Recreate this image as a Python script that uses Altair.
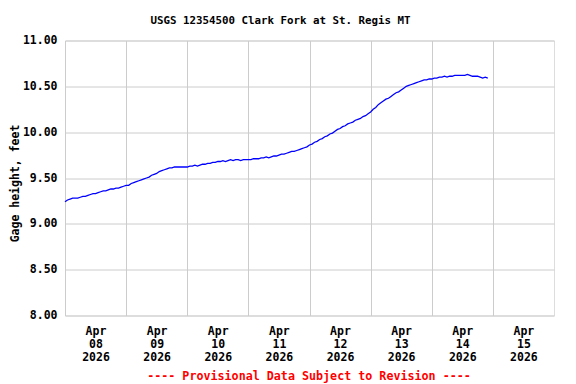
import altair as alt
import pandas as pd

TITLE = "USGS 12354500 Clark Fork at St. Regis MT"
Y_TITLE = "Gage height, feet"
FOOTER = "---- Provisional Data Subject to Revision ----"
START = "2026-04-08T00:00:00Z"

# hourly gage height readings (feet), starting Apr 08 2026 00:00
day1 = [9.24, 9.26, 9.27, 9.28, 9.28, 9.28, 9.29, 9.30, 9.30, 9.31, 9.32, 9.33,
        9.33, 9.34, 9.35, 9.36, 9.36, 9.37, 9.38, 9.38, 9.39, 9.39, 9.40, 9.41]
day2 = [9.42, 9.42, 9.44, 9.45, 9.46, 9.47, 9.48, 9.49, 9.50, 9.51, 9.53, 9.54,
        9.55, 9.57, 9.58, 9.59, 9.60, 9.61, 9.61, 9.62, 9.62, 9.62, 9.62, 9.62]
day3 = [9.62, 9.63, 9.63, 9.64, 9.63, 9.64, 9.65, 9.65, 9.66, 9.66, 9.67, 9.67,
        9.68, 9.68, 9.69, 9.68, 9.69, 9.70, 9.69, 9.70, 9.70, 9.69, 9.70, 9.70]
day4 = [9.70, 9.70, 9.71, 9.71, 9.71, 9.72, 9.72, 9.73, 9.72, 9.73, 9.74, 9.74,
        9.75, 9.76, 9.76, 9.77, 9.78, 9.79, 9.79, 9.80, 9.81, 9.82, 9.83, 9.84]
day5 = [9.86, 9.87, 9.89, 9.90, 9.92, 9.93, 9.95, 9.96, 9.98, 9.99, 10.01, 10.03,
        10.04, 10.06, 10.07, 10.09, 10.10, 10.11, 10.13, 10.14, 10.15, 10.17, 10.18, 10.20]
day6 = [10.22, 10.25, 10.27, 10.30, 10.32, 10.34, 10.36, 10.37, 10.39, 10.41, 10.43, 10.44,
        10.46, 10.48, 10.50, 10.51, 10.52, 10.53, 10.54, 10.55, 10.56, 10.57, 10.57, 10.58]
day7 = [10.58, 10.59, 10.59, 10.60, 10.60, 10.61, 10.60, 10.61, 10.61, 10.62, 10.62, 10.62,
        10.62, 10.62, 10.63, 10.62, 10.61, 10.61, 10.61, 10.60, 10.59, 10.60, 10.59]

values = day1 + day2 + day3 + day4 + day5 + day6 + day7
times = pd.date_range(START, periods=len(values), freq="h")
df = pd.DataFrame({"time": times.strftime("%Y-%m-%dT%H:%M:%SZ"), "gage": values})

TICK_DAYS = [8, 9, 10, 11, 12, 13, 14, 15]
FONT = "DejaVu Sans Mono"

x_axis = alt.Axis(
    values=[alt.DateTime(year=2026, month=4, date=d, utc=True) for d in TICK_DAYS],
    labelExpr="[utcFormat(datum.value, '%b'), utcFormat(datum.value, '%d'), utcFormat(datum.value, '%Y')]",
    labelOffset=30.5,
    labelPadding=10,
    labelLineHeight=13,
    labelFont=FONT, labelFontSize=11.5, labelFontWeight="bold", labelColor="black",
    labelAlign="center", labelBaseline="top",
    ticks=False, domain=False,
    grid=True, gridColor="#cccccc", gridWidth=1,
    title=FOOTER, titleColor="#ff0000", titleFont=FONT, titleFontSize=11.7,
    titleFontWeight="bold", titleX=243.5, titleY=60, titleBaseline="middle",
    titleAlign="center",
)
y_axis = alt.Axis(
    values=[8.0, 8.5, 9.0, 9.5, 10.0, 10.5, 11.0],
    format=".2f",
    labelFont=FONT, labelFontSize=11.5, labelFontWeight="bold", labelColor="black",
    labelPadding=8, ticks=False, domain=False,
    grid=True, gridColor="#cccccc", gridWidth=1,
    title=Y_TITLE, titleFont=FONT, titleFontSize=11.5, titleFontWeight="bold",
    titleColor="black", titleX=-50, titleY=142.5, titleAngle=270,
    titleBaseline="middle", titleAlign="center",
)

chart = alt.Chart(df).mark_line(color="#0000ff", strokeWidth=1.3).encode(
    x=alt.X("time:T", axis=x_axis,
            scale=alt.Scale(type="utc", domain=[
                alt.DateTime(year=2026, month=4, date=8, utc=True),
                alt.DateTime(year=2026, month=4, date=16, utc=True)])),
    y=alt.Y("gage:Q", axis=y_axis, scale=alt.Scale(domain=[8, 11], nice=False, zero=False)),
).properties(
    width=489, height=275,
    title=alt.TitleParams(TITLE, font=FONT, fontSize=10.8, fontWeight="bold",
                          color="black", anchor="middle", dx=-29, offset=9),
    autosize=alt.AutoSizeParams(type="none"),
    padding={"left": 57, "top": 32.5, "right": 14, "bottom": 68},
).configure_view(stroke="black", strokeWidth=1.5).configure(background="white")

chart.save("out.html", embed_options={"renderer": "svg", "actions": False})
